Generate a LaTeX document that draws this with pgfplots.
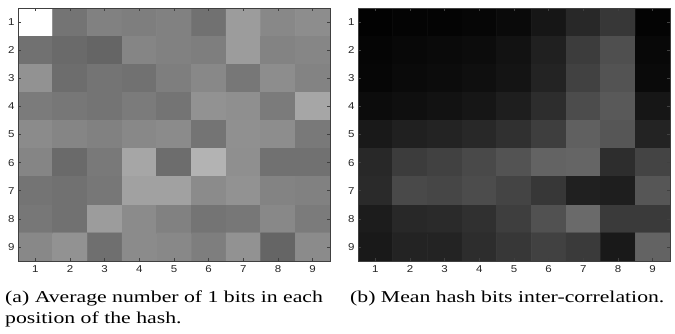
\documentclass[border=0pt]{standalone}
\usepackage{fontspec}
\setmainfont{Liberation Serif}
\setsansfont{Liberation Sans}
\newfontfamily\capfont[FakeStretch=1.31]{Liberation Serif}
\newfontfamily\tickfont[FakeStretch=1.15]{Liberation Sans}
\usepackage{pgfplots}
\usepackage{pgfplotstable}
\pgfplotsset{compat=1.18}
\pgfplotstableread{
x y c
1 1 255
2 1 115
3 1 128
4 1 125
5 1 128
6 1 112
7 1 155
8 1 135
9 1 140
1 2 112
2 2 105
3 2 100
4 2 132
5 2 128
6 2 125
7 2 155
8 2 130
9 2 133
1 3 145
2 3 108
3 3 115
4 3 112
5 3 125
6 3 135
7 3 118
8 3 140
9 3 130
1 4 122
2 4 118
3 4 115
4 4 122
5 4 115
6 4 145
7 4 142
8 4 122
9 4 165
1 5 138
2 5 132
3 5 128
4 5 135
5 5 138
6 5 115
7 5 143
8 5 140
9 5 120
1 6 132
2 6 105
3 6 120
4 6 165
5 6 108
6 6 178
7 6 142
8 6 112
9 6 112
1 7 115
2 7 112
3 7 118
4 7 160
5 7 160
6 7 138
7 7 145
8 7 130
9 7 128
1 8 118
2 8 112
3 8 155
4 8 138
5 8 128
6 8 115
7 8 118
8 8 135
9 8 122
1 9 135
2 9 145
3 9 110
4 9 138
5 9 135
6 9 125
7 9 145
8 9 100
9 9 138
}\tableA
\pgfplotstableread{
x y c
1 1 2
2 1 4
3 1 4
4 1 6
5 1 10
6 1 22
7 1 40
8 1 55
9 1 4
1 2 5
2 2 8
3 2 10
4 2 12
5 2 18
6 2 32
7 2 60
8 2 78
9 2 8
1 3 6
2 3 10
3 3 12
4 3 15
5 3 20
6 3 35
7 3 65
8 3 82
9 3 10
1 4 12
2 4 15
3 4 18
4 4 22
5 4 30
6 4 45
7 4 75
8 4 88
9 4 22
1 5 25
2 5 32
3 5 35
4 5 40
5 5 48
6 5 62
7 5 95
8 5 85
9 5 35
1 6 40
2 6 60
3 6 65
4 6 72
5 6 82
6 6 98
7 6 100
8 6 45
9 6 68
1 7 42
2 7 72
3 7 70
4 7 75
5 7 68
6 7 55
7 7 32
8 7 30
9 7 85
1 8 28
2 8 40
3 8 42
4 8 48
5 8 62
6 8 80
7 8 105
8 8 58
9 8 58
1 9 25
2 9 35
3 9 35
4 9 45
5 9 55
6 9 65
7 9 58
8 9 25
9 9 98
}\tableB
\pgfplotsset{
  hm/.style={
    scale only axis,
    width=312pt, height=253pt,
    xmin=0.5, xmax=9.5, ymin=0.5, ymax=9.5,
    y dir=reverse,
    xtick={1,...,9}, ytick={1,...,9},
    tick align=inside,
    major tick length=3pt,
    tick style={black!75, line width=0.5pt},
    axis line style={black!75, line width=0.6pt},
    ticklabel style={font=\tickfont\fontsize{10}{10}\selectfont, text=black!85},
    xticklabel style={yshift=-1pt},
    /pgf/number format/assume math mode=true,
    colormap={bw}{gray(0)=(0); gray(1)=(1)},
    point meta min=0, point meta max=255,
    axis on top,
  }
}
\begin{document}
\begin{tikzpicture}[x=1pt,y=1pt]
\path[use as bounding box] (0,0) rectangle (675,333);
\begin{axis}[hm, at={(18pt,72pt)}, anchor=south west]
\addplot[matrix plot*, mesh/cols=9, point meta=explicit] table[x=x, y=y, meta=c] {\tableA};
\end{axis}
\begin{axis}[hm, at={(358pt,72pt)}, anchor=south west]
\addplot[matrix plot*, mesh/cols=9, point meta=explicit] table[x=x, y=y, meta=c] {\tableB};
\end{axis}
\node[anchor=base west, inner sep=0pt, font=\capfont\fontsize{16.6}{20}\selectfont] at (5pt,31pt) {(a) Average number of 1 bits in each};
\node[anchor=base west, inner sep=0pt, font=\capfont\fontsize{16.6}{20}\selectfont] at (5pt,10pt) {position of the hash.};
\node[anchor=base west, inner sep=0pt, font=\capfont\fontsize{16.6}{20}\selectfont] at (350pt,31pt) {(b) Mean hash bits inter-correlation.};
\end{tikzpicture}
\end{document}
